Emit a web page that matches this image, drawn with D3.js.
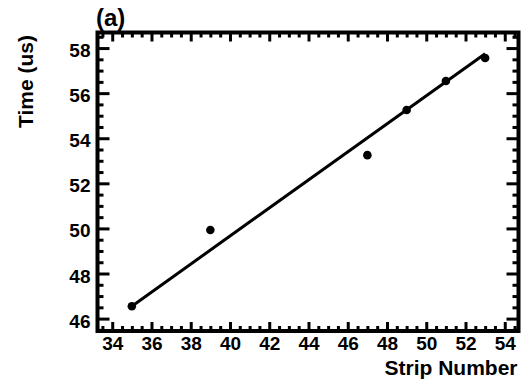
<!DOCTYPE html>
<html>
<head>
<meta charset="utf-8">
<script src="https://cdn.jsdelivr.net/npm/d3@7"></script>
<style>
  html, body { margin: 0; padding: 0; background: #fff; }
  svg text { font-family: "Liberation Sans", Arial, sans-serif; font-weight: bold; fill: #000; }
</style>
</head>
<body>
<svg id="chart" width="524" height="383"></svg>
<script>
// measured points
const strips = [35, 39, 47, 49, 51, 53];
const times = [46.55, 49.93, 53.25, 55.25, 56.54, 57.56];

// fitted line, endpoints
const fitStrips = [35, 53];
const fitTimes = [46.55, 57.75];

const xTicks = [34, 36, 38, 40, 42, 44, 46, 48, 50, 52, 54];
const yTicks = [46, 48, 50, 52, 54, 56, 58];

const svg = d3.select('#chart');
const frameL = 97.5, frameR = 518.5, frameT = 32.5, frameB = 331;

const x = d3.scaleLinear().domain([33.25, 54.7]).range([frameL, frameR]);
const y = d3.scaleLinear().domain([45.45, 58.69]).range([frameB, frameT]);

const xMinor = d3.range(33.5, 54.7, 0.5).filter((v) => !xTicks.includes(v));
const yMinor = d3.range(45.5, 58.69, 0.5).filter((v) => !yTicks.includes(v));

function styleAxis(g) {
  g.select('.domain').remove();
  g.selectAll('.tick line').attr('stroke', '#000').attr('stroke-width', 3);
}

// bottom
svg.append('g').attr('transform', `translate(0,${frameB})`)
  .call(d3.axisBottom(x).tickValues(xTicks).tickSize(-9).tickPadding(6).tickFormat(d3.format('d')))
  .call(styleAxis)
  .call((g) => g.selectAll('.tick text').attr('font-size', 19).attr('dy', '0.7em'));
svg.append('g').attr('transform', `translate(0,${frameB})`)
  .call(d3.axisBottom(x).tickValues(xMinor).tickSize(-5).tickFormat(''))
  .call(styleAxis);

// top
svg.append('g').attr('transform', `translate(0,${frameT})`)
  .call(d3.axisTop(x).tickValues(xTicks).tickSize(-9).tickFormat(''))
  .call(styleAxis);
svg.append('g').attr('transform', `translate(0,${frameT})`)
  .call(d3.axisTop(x).tickValues(xMinor).tickSize(-5).tickFormat(''))
  .call(styleAxis);

// left
svg.append('g').attr('transform', `translate(${frameL},0)`)
  .call(d3.axisLeft(y).tickValues(yTicks).tickSize(-12).tickPadding(7).tickFormat(d3.format('d')))
  .call(styleAxis)
  .call((g) => g.selectAll('.tick text').attr('font-size', 19).attr('dy', '0.45em'));
svg.append('g').attr('transform', `translate(${frameL},0)`)
  .call(d3.axisLeft(y).tickValues(yMinor).tickSize(-6).tickFormat(''))
  .call(styleAxis);

// right
svg.append('g').attr('transform', `translate(${frameR},0)`)
  .call(d3.axisRight(y).tickValues(yTicks).tickSize(-12).tickFormat(''))
  .call(styleAxis);
svg.append('g').attr('transform', `translate(${frameR},0)`)
  .call(d3.axisRight(y).tickValues(yMinor).tickSize(-6).tickFormat(''))
  .call(styleAxis);

// frame
svg.append('rect')
  .attr('x', frameL).attr('y', frameT)
  .attr('width', frameR - frameL).attr('height', frameB - frameT)
  .attr('fill', 'none').attr('stroke', '#000').attr('stroke-width', 4);

// fit line
const fit = fitStrips.map((s, i) => [s, fitTimes[i]]);
svg.append('path')
  .datum(fit)
  .attr('fill', 'none')
  .attr('stroke', '#000')
  .attr('stroke-width', 3)
  .attr('d', d3.line().x((d) => x(d[0])).y((d) => y(d[1])));

// points
svg.append('g')
  .selectAll('circle')
  .data(strips.map((s, i) => [s, times[i]]))
  .join('circle')
  .attr('cx', (d) => x(d[0]))
  .attr('cy', (d) => y(d[1]))
  .attr('r', 4.3)
  .attr('fill', '#000');

// titles
svg.append('text')
  .attr('x', frameR - 1).attr('y', 375)
  .attr('text-anchor', 'end')
  .attr('font-size', 21)
  .text('Strip Number');

svg.append('text')
  .attr('transform', `translate(33,35) rotate(-90)`)
  .attr('text-anchor', 'end')
  .attr('font-size', 21)
  .text('Time (us)');

svg.append('text')
  .attr('x', 96).attr('y', 26)
  .attr('font-size', 24)
  .text('(a)');
</script>
</body>
</html>
